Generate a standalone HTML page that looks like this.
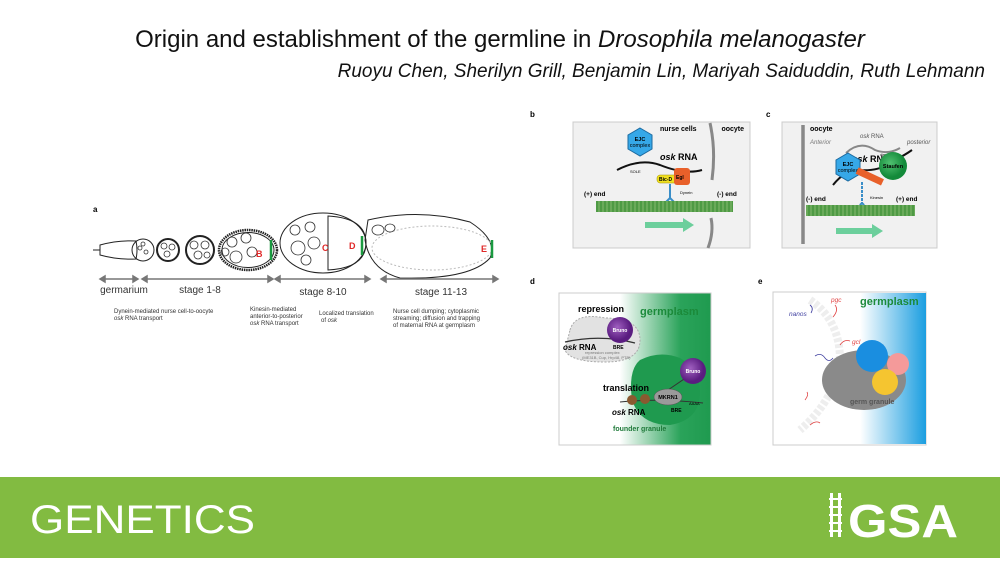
<!DOCTYPE html>
<html><head><meta charset="utf-8"><style>
html,body{margin:0;padding:0;background:#fff;}
svg{display:block;font-family:"Liberation Sans",sans-serif;}
</style></head><body>
<svg width="1000" height="563" viewBox="0 0 1000 563" xmlns="http://www.w3.org/2000/svg">
<defs>
<linearGradient id="gd" x1="0" x2="1" y1="0" y2="0"><stop offset="0.4" stop-color="#fff"/><stop offset="0.8" stop-color="#2aa35a"/><stop offset="1" stop-color="#1f9a4f"/></linearGradient>
<linearGradient id="ge" x1="0" x2="1" y1="0" y2="0"><stop offset="0.3" stop-color="#fff"/><stop offset="1" stop-color="#1b9ee0"/></linearGradient>
<radialGradient id="pur" cx="0.4" cy="0.4"><stop offset="0" stop-color="#a060c0"/><stop offset="1" stop-color="#5a1c80"/></radialGradient>
<radialGradient id="grn" cx="0.4" cy="0.4"><stop offset="0" stop-color="#50c070"/><stop offset="1" stop-color="#138a3a"/></radialGradient>
<pattern id="mt" width="4" height="12" patternUnits="userSpaceOnUse"><rect width="4" height="12" fill="#6aaa5a"/><rect width="2" height="12" fill="#4e9a44"/></pattern>
</defs>
<text x="500" y="47" font-size="24" text-anchor="middle" fill="#111">Origin and establishment of the germline in <tspan font-style="italic">Drosophila melanogaster</tspan></text>
<text x="985" y="77" font-size="19" text-anchor="end" font-style="italic" fill="#111">Ruoyu Chen, Sherilyn Grill, Benjamin Lin, Mariyah Saiduddin, Ruth Lehmann</text>

<!-- panel a -->
<text x="93" y="212" font-size="8" font-weight="bold">a</text>
<g fill="none" stroke="#222" stroke-width="1">
<path d="M93 250 H100"/>
<path d="M100 245 Q118 240 136 241 Q138 250 136 259 Q118 260 100 255 Z"/>
<circle cx="143" cy="250" r="11"/>
<circle cx="168" cy="250" r="11" stroke-width="2"/>
<circle cx="200" cy="250" r="14" stroke-width="2"/>
<ellipse cx="248" cy="250" rx="29" ry="20" stroke-width="2.5" stroke-dasharray="1.5 0.8"/>
<ellipse cx="248" cy="250" rx="26" ry="17.5"/>
<ellipse cx="323" cy="243" rx="43" ry="30"/>
<path d="M328 216 Q366 218 366 243 Q366 268 328 270 Z"/>
<path d="M368 220 Q420 208 470 222 Q498 240 490 258 Q470 280 400 278 Q370 270 365 240 Z"/>
<ellipse cx="432" cy="248" rx="60" ry="22" stroke="#bbb" stroke-dasharray="2 2"/>
</g>
<g fill="none" stroke="#333" stroke-width="0.8">
<circle cx="140" cy="248" r="2"/><circle cx="146" cy="252" r="2"/><circle cx="143" cy="244" r="2"/>
<circle cx="164" cy="246" r="3"/><circle cx="172" cy="247" r="3"/><circle cx="167" cy="254" r="3"/>
<circle cx="194" cy="245" r="4"/><circle cx="205" cy="245" r="4"/><circle cx="198" cy="255" r="4"/><circle cx="207" cy="255" r="3"/>
<circle cx="232" cy="242" r="5"/><circle cx="246" cy="238" r="5"/><circle cx="236" cy="257" r="6"/><circle cx="252" cy="252" r="5"/><circle cx="225" cy="252" r="4"/>
<circle cx="295" cy="230" r="5"/><circle cx="310" cy="227" r="5"/><circle cx="298" cy="248" r="7"/><circle cx="314" cy="243" r="6"/><circle cx="306" cy="260" r="5"/>
<ellipse cx="378" cy="230" rx="6" ry="5"/><ellipse cx="390" cy="228" rx="5" ry="4"/>
</g>
<path d="M271 240 V260 M362 236 V255 M492 240 V258" stroke="#1a9a40" stroke-width="2.5"/>
<g fill="#e02828" font-size="9" font-weight="bold"><text x="256" y="257">B</text><text x="322" y="251">C</text><text x="349" y="249">D</text><text x="481" y="252">E</text></g>
<g stroke="#777" stroke-width="1.5" fill="#777">
<path d="M103 279 H135"/><path d="M100 279 l5 -3 v6z M138 279 l-5 -3 v6z"/>
<path d="M146 279 H270"/><path d="M142 279 l5 -3 v6z M273 279 l-5 -3 v6z"/>
<path d="M279 279 H367"/><path d="M275 279 l5 -3 v6z M370 279 l-5 -3 v6z"/>
<path d="M385 279 H495"/><path d="M381 279 l5 -3 v6z M498 279 l-5 -3 v6z"/>
</g>
<g font-size="10" fill="#333" text-anchor="middle"><text x="124" y="293">germarium</text><text x="200" y="293">stage 1-8</text><text x="323" y="295">stage 8-10</text><text x="441" y="295">stage 11-13</text></g>
<g font-size="6" fill="#333">
<text x="114" y="313">Dynein-mediated nurse cell-to-oocyte</text><text x="114" y="320" font-style="italic">osk <tspan font-style="normal">RNA transport</tspan></text>
<text x="250" y="311">Kinesin-mediated</text><text x="250" y="318">anterior-to-posterior</text><text x="250" y="325" font-style="italic">osk <tspan font-style="normal">RNA transport</tspan></text>
<text x="319" y="315">Localized translation</text><text x="321" y="322">of <tspan font-style="italic">osk</tspan></text>
<text x="393" y="313">Nurse cell dumping; cytoplasmic</text><text x="393" y="320">streaming; diffusion and trapping</text><text x="393" y="327">of maternal RNA at germplasm</text>
</g>

<!-- panel b -->
<text x="530" y="117" font-size="8" font-weight="bold">b</text>
<rect x="573" y="122" width="177" height="126" fill="#f1f1f1" stroke="#ccc"/>
<path d="M710 123 Q716 150 712 180" stroke="#888" stroke-width="3" fill="none"/>
<path d="M711 218 Q714 232 708 248" stroke="#888" stroke-width="3" fill="none"/>
<text x="660" y="131" font-size="7" font-weight="bold">nurse cells</text>
<text x="744" y="131" font-size="7" font-weight="bold" text-anchor="end">oocyte</text>
<path d="M617 170 Q640 158 660 165 Q685 175 702 170" stroke="#111" stroke-width="2" fill="none"/>
<polygon points="640,128 652,135 652,149 640,156 628,149 628,135" fill="#36a8e8" stroke="#1c6aa0"/>
<text x="640" y="141" font-size="5.5" text-anchor="middle" font-weight="bold">EJC</text><text x="640" y="147" font-size="5.5" text-anchor="middle">complex</text>
<text x="660" y="160" font-size="9" font-weight="bold"><tspan font-style="italic">osk</tspan> RNA</text>
<text x="630" y="173" font-size="4">SOLE</text><text x="675" y="172" font-size="4">OES</text>
<rect x="657" y="175" width="20" height="8" rx="3" fill="#f0e020" stroke="#a09000" stroke-width="0.5"/>
<rect x="674" y="168" width="16" height="17" rx="3" fill="#e8602a"/>
<text x="659" y="181" font-size="5" font-weight="bold">Bic-D</text><text x="676" y="179" font-size="5" font-weight="bold">Egl</text>
<path d="M670 184 V198 M670 198 L663 205 M670 198 L677 205" stroke="#3a8ec8" stroke-width="2" fill="none"/>
<circle cx="663" cy="205" r="3.5" fill="#3a8ec8"/><circle cx="678" cy="205" r="3.5" fill="#3a8ec8"/>
<text x="680" y="194" font-size="4">Dynein</text>
<rect x="596" y="201" width="137" height="11" fill="url(#mt)"/>
<text x="584" y="196" font-size="6.5" font-weight="bold">(+) end</text><text x="717" y="196" font-size="6.5" font-weight="bold">(-) end</text>
<path d="M645 222 H683 V218 L694 225 L683 232 V228 H645 Z" fill="#6ccf9c"/>

<!-- panel c -->
<text x="766" y="117" font-size="8" font-weight="bold">c</text>
<rect x="782" y="122" width="155" height="126" fill="#f1f1f1" stroke="#ccc"/>
<path d="M803 125 V244" stroke="#888" stroke-width="3.5"/>
<text x="810" y="131" font-size="7" font-weight="bold">oocyte</text>
<text x="810" y="144" font-size="6" fill="#777" font-style="italic">Anterior</text>
<text x="860" y="138" font-size="6" fill="#555"><tspan font-style="italic">osk</tspan> RNA</text>
<text x="907" y="144" font-size="6" fill="#555" font-style="italic">posterior</text>
<path d="M846 153 Q860 140 875 150 Q888 155 900 148" stroke="#888" stroke-width="2" fill="none"/>
<text x="880" y="156" font-size="3.5">dimerization</text>
<path d="M833 185 Q845 170 858 170 Q880 172 895 160 Q905 155 912 150" stroke="#111" stroke-width="2" fill="none"/>
<text x="852" y="162" font-size="9" font-weight="bold"><tspan font-style="italic">osk</tspan> RNA</text>
<polygon points="848,153 860,160 860,174 848,181 836,174 836,160" fill="#36a8e8" stroke="#1c6aa0"/>
<text x="848" y="166" font-size="5.5" text-anchor="middle" font-weight="bold">EJC</text><text x="848" y="172" font-size="5.5" text-anchor="middle">complex</text>
<circle cx="893" cy="166" r="14" fill="url(#grn)"/>
<text x="893" y="168" font-size="5.5" text-anchor="middle" font-weight="bold">Staufen</text>
<rect x="856" y="173" width="28" height="7" fill="#e8602a" transform="rotate(25 870 176)"/>
<path d="M862 182 V203 M862 203 L856 209 M862 203 L868 209" stroke="#3a8ec8" stroke-width="2" stroke-dasharray="3 1" fill="none"/>
<circle cx="856" cy="209" r="3.5" fill="#3a8ec8"/><circle cx="868" cy="209" r="3.5" fill="#3a8ec8"/>
<text x="870" y="199" font-size="4">Kinesin</text>
<rect x="806" y="205" width="109" height="11" fill="url(#mt)"/>
<text x="806" y="201" font-size="6.5" font-weight="bold">(-) end</text><text x="896" y="201" font-size="6.5" font-weight="bold">(+) end</text>
<path d="M836 228 H872 V224 L883 231 L872 238 V234 H836 Z" fill="#6ccf9c"/>

<!-- panel d -->
<text x="530" y="284" font-size="8" font-weight="bold">d</text>
<rect x="559" y="293" width="152" height="152" fill="url(#gd)" stroke="#ccc"/>
<path d="M570 330 Q575 312 605 318 Q640 318 640 340 Q640 362 605 362 Q570 362 565 350 Z" fill="#e2e2e2" stroke="#aaa" stroke-dasharray="2 1.5"/>
<text x="578" y="312" font-size="9" font-weight="bold">repression</text>
<text x="640" y="315" font-size="11" font-weight="bold" fill="#1b8a3a">germplasm</text>
<path d="M565 342 Q600 334 635 343" stroke="#333" stroke-width="1.2" fill="none"/>
<circle cx="620" cy="330" r="13" fill="url(#pur)"/>
<text x="620" y="332" font-size="5" text-anchor="middle" fill="#fff" font-weight="bold">Bruno</text>
<text x="563" y="350" font-size="8" font-weight="bold"><tspan font-style="italic">osk</tspan> RNA</text>
<text x="613" y="349" font-size="5" font-weight="bold">BRE</text>
<text x="585" y="354" font-size="4" fill="#777">repression complex</text><text x="582" y="359" font-size="4" fill="#777">(ME31B, Cup, Hrp48, PTB)</text>
<path d="M640 360 Q660 350 680 358 Q700 370 700 392 Q700 420 670 425 Q640 425 632 400 Q628 370 640 360 Z" fill="#1f9a4f"/>
<path d="M668 390 L690 375" stroke="#333"/>
<circle cx="693" cy="371" r="13" fill="url(#pur)"/>
<text x="693" y="373" font-size="5" text-anchor="middle" fill="#fff" font-weight="bold">Bruno</text>
<text x="603" y="391" font-size="9" font-weight="bold">translation</text>
<path d="M620 402 Q660 398 703 403" stroke="#333" stroke-width="1" fill="none"/>
<ellipse cx="668" cy="397" rx="14" ry="8" fill="#9a9a9a" stroke="#555" stroke-width="0.5"/>
<text x="668" y="399" font-size="5.5" text-anchor="middle" font-weight="bold">MKRN1</text>
<circle cx="632" cy="400" r="5" fill="#8a5a30"/><circle cx="645" cy="399" r="5" fill="#8a5a30"/>
<text x="689" y="405" font-size="4">AAAA</text><text x="671" y="412" font-size="5" font-weight="bold">BRE</text>
<text x="612" y="415" font-size="8" font-weight="bold"><tspan font-style="italic">osk</tspan> RNA</text>
<text x="613" y="431" font-size="7" font-weight="bold" fill="#1f7a3a">founder granule</text>

<!-- panel e -->
<text x="758" y="284" font-size="8" font-weight="bold">e</text>
<rect x="773" y="292" width="153" height="153" fill="#fff" stroke="#ccc"/>
<path d="M848 293 Q838 350 832 444 H926 V293 Z" fill="url(#ge)"/>
<path d="M810 300 Q840 320 840 360 Q835 400 800 430" stroke="#eee" stroke-width="8" fill="none" stroke-dasharray="4 2"/>
<text x="860" y="305" font-size="11" font-weight="bold" fill="#1b8a3a">germplasm</text>
<text x="789" y="316" font-size="6.5" font-style="italic" fill="#4040a0">nanos</text>
<text x="831" y="302" font-size="6.5" font-style="italic" fill="#e04040">pgc</text>
<text x="852" y="344" font-size="6.5" font-style="italic" fill="#e04040">gcl</text>
<g fill="none" stroke-width="0.8">
<path d="M810 305 q4 3 1 8" stroke="#4040a0"/><path d="M835 305 q4 5 -2 12" stroke="#e04040"/>
<path d="M840 345 q4 -6 10 -4" stroke="#e04040"/><path d="M815 356 q6 -4 10 2 q4 5 8 0" stroke="#4040a0"/>
<path d="M805 400 q4 -5 2 -8" stroke="#e04040"/><path d="M810 425 q6 -5 10 -2" stroke="#e04040"/>
</g>
<ellipse cx="864" cy="380" rx="42" ry="30" fill="#8a8a8a"/>
<circle cx="872" cy="356" r="16" fill="#1a8ee0"/>
<circle cx="898" cy="364" r="11" fill="#f49a9a"/>
<circle cx="885" cy="382" r="13" fill="#f5c530"/>
<text x="850" y="404" font-size="7" font-weight="bold" fill="#555">germ granule</text>

<!-- footer -->
<rect x="0" y="477" width="1000" height="81" fill="#82bb41"/>
<text x="30" y="533" font-size="40" fill="#fff" textLength="225" lengthAdjust="spacingAndGlyphs">GENETICS</text>
<g fill="#fff"><rect x="830" y="493" width="3" height="44"/><rect x="838" y="493" width="3" height="44"/><path d="M829 499h13M829 507h13M829 515h13M829 523h13M829 531h13" stroke="#fff" stroke-width="2"/></g>
<text x="848" y="537" font-size="46" font-weight="bold" fill="#fff" textLength="110" lengthAdjust="spacingAndGlyphs">GSA</text>
</svg>
</body></html>
